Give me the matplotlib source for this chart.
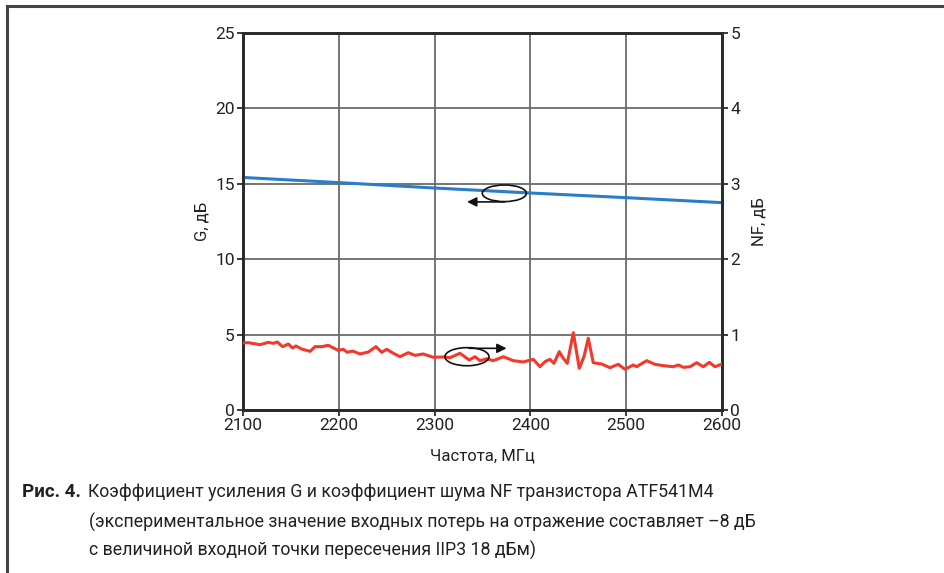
import numpy as np
import matplotlib
matplotlib.use('Agg')
import matplotlib.pyplot as plt
from matplotlib.patches import Ellipse
from matplotlib.lines import Line2D

# Gain G, dB (left axis)
g_freq = [2100, 2200, 2300, 2400, 2500, 2600]
g_db = [15.42, 15.08, 14.72, 14.39, 14.08, 13.75]

# Noise figure NF, dB (right axis)
nf_freq = [2100, 2105.5, 2117.7, 2126.4, 2131.6, 2135.8, 2141.4, 2147.3, 2151.8, 2155.3,
           2161.2, 2170, 2175.2, 2182.2, 2189, 2199.5, 2204.7, 2208.9, 2214.5, 2222.1,
           2230.8, 2238.8, 2244.8, 2250, 2256.9, 2263.9, 2272.5, 2279.5, 2288.2, 2298.6,
           2309.1, 2316.1, 2326.5, 2336.2, 2342.2, 2347.4, 2354.4, 2361.3, 2371.7, 2382.2,
           2392.6, 2403, 2410, 2415.2, 2420.4, 2424.6, 2430.1, 2434.3, 2438.5, 2444.8,
           2451, 2455.9, 2460.4, 2465.6, 2474.4, 2483.1, 2491.7, 2498.7, 2507.4, 2510.9,
           2521.4, 2530, 2538.7, 2549.2, 2554.4, 2559.6, 2566.6, 2573.6, 2580.5, 2586.8,
           2592.7, 2600]
nf_db = [0.89, 0.893, 0.866, 0.897, 0.884, 0.902, 0.84, 0.875, 0.822, 0.849,
         0.809, 0.778, 0.84, 0.84, 0.858, 0.79, 0.805, 0.765, 0.782, 0.743,
         0.769, 0.84, 0.765, 0.805, 0.752, 0.707, 0.76, 0.725, 0.743, 0.699,
         0.703, 0.694, 0.752, 0.663, 0.707, 0.654, 0.68, 0.654, 0.707, 0.654,
         0.637, 0.672, 0.574, 0.641, 0.672, 0.619, 0.773, 0.686, 0.619, 1.025,
         0.553, 0.707, 0.951, 0.627, 0.61, 0.561, 0.606, 0.54, 0.597, 0.575,
         0.654, 0.606, 0.588, 0.574, 0.597, 0.566, 0.574, 0.627, 0.574, 0.632,
         0.574, 0.61]

x_ticks = [2100, 2200, 2300, 2400, 2500, 2600]
g_ticks = [0, 5, 10, 15, 20, 25]
nf_ticks = [0, 1, 2, 3, 4, 5]

caption = [
    'Коэффициент усиления G и коэффициент шума NF транзистора ATF541M4',
    '(экспериментальное значение входных потерь на отражение составляет \u20138 дБ',
    'с величиной входной точки пересечения IIP3 18 дБм)',
]

plt.rcParams['font.family'] = ['Roboto', 'DejaVu Sans']
frame_col = '#2b2b2b'
grid_col = '#6a6a6a'
text_col = '#222222'

fig = plt.figure(figsize=(9.44, 5.73), dpi=100)
ax = fig.add_axes([243/944, 1-410/573, 479/944, 377/573])
ax2 = ax.twinx()

ax.plot(g_freq, g_db, color='#2a7dc6', lw=2.2, zorder=3)
ax2.plot(nf_freq, nf_db, color='#f2392c', lw=2.2, zorder=3,
         solid_joinstyle='round', solid_capstyle='round')

ax.set_xlim(2100, 2600)
ax.set_ylim(0, 25)
ax2.set_ylim(0, 5)
ax.set_xticks(x_ticks)
ax.set_yticks(g_ticks)
ax2.set_yticks(nf_ticks)
ax.grid(True, color=grid_col, lw=1.3)
ax.set_axisbelow(True)

for a in (ax, ax2):
    for s in a.spines.values():
        s.set_color(frame_col)
        s.set_linewidth(2)
    a.tick_params(labelsize=12.5, colors=frame_col, labelcolor=text_col, length=4, width=1.3, pad=2)

ax.set_xlabel('Частота, МГц', fontsize=12, color=text_col, labelpad=11)
ax.set_ylabel('G, дБ', fontsize=12, color=text_col, labelpad=4)
ax2.set_ylabel('NF, дБ', fontsize=12, color=text_col, labelpad=8)

# arrow markers pointing to each curve's axis
ax.add_patch(Ellipse((2372.8, 14.37), 46, 1.1, fill=False, ec='#111111', lw=1.2, zorder=4))
ax.annotate('', xy=(2331, 13.8), xytext=(2376, 13.8),
            arrowprops=dict(arrowstyle='-|>', color='#111111', lw=1.2, mutation_scale=14))
ax2.add_patch(Ellipse((2333.8, 0.707), 46, 0.24, fill=False, ec='#111111', lw=1.2, zorder=4))
ax2.annotate('', xy=(2378, 0.818), xytext=(2333, 0.818),
             arrowprops=dict(arrowstyle='-|>', color='#111111', lw=1.2, mutation_scale=14))

# outer frame (top and left edges only)
fig.add_artist(Line2D([7/944, 1], [1-6/573, 1-6/573], color='#444444', lw=2.2))
fig.add_artist(Line2D([7/944, 7/944], [0, 1-6/573], color='#444444', lw=2.2))

fig.text(22/944, 1-492/573, 'Рис. 4.', fontsize=13.5, fontweight='bold', color=text_col, va='center')
fig.text(88/944, 1-492/573, caption[0], fontsize=12.8, color=text_col, va='center')
fig.text(89/944, 1-522/573, caption[1], fontsize=12.8, color=text_col, va='center')
fig.text(89/944, 1-550/573, caption[2], fontsize=12.8, color=text_col, va='center')

fig.savefig('out.png', dpi=100)
